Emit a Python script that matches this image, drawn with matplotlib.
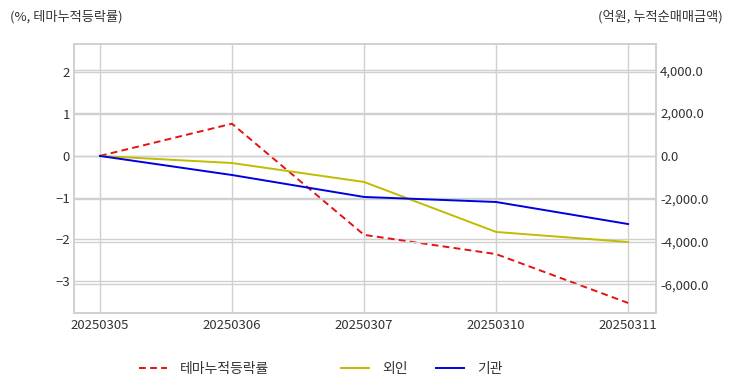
import matplotlib.pyplot as plt
from matplotlib.ticker import FuncFormatter

plt.rcParams['font.family'] = ['Noto Sans CJK KR', 'DejaVu Sans']

dates = ["20250305", "20250306", "20250307", "20250310", "20250311"]
theme_rate = [0.0, 0.77, -1.89, -2.35, -3.52]      # %, left axis
foreign = [0.0, -330, -1215, -3550, -4020]         # 억원, right axis
institution = [0.0, -890, -1915, -2150, -3180]     # 억원, right axis

left_ticks = [-3, -2, -1, 0, 1, 2]
right_ticks = [-6000, -4000, -2000, 0, 2000, 4000]

grid_c = "#d0d0d0"
text_c = "#333333"

fig = plt.figure(figsize=(7.32, 3.92), dpi=100)
ax = fig.add_axes([0.101, 0.2015, 0.795, 0.6865])
ax2 = ax.twinx()

x = range(len(dates))
l1, = ax.plot(x, theme_rate, color="#e81010", lw=1.4, ls=(0, (3.5, 2.2)), label="테마누적등락률")
l2, = ax2.plot(x, foreign, color="#c0bc00", lw=1.4, label="외인")
l3, = ax2.plot(x, institution, color="#0000e0", lw=1.4, label="기관")

ax.set_xlim(-0.197, 4.21)
ax.set_ylim(-3.76, 2.68)
ax2.set_ylim(-7336, 5234)

ax.set_xticks(list(x))
ax.set_xticklabels(dates)
ax.set_yticks(left_ticks)
ax2.set_yticks(right_ticks)
ax2.yaxis.set_major_formatter(FuncFormatter(lambda v, p: f"{v:,.1f}"))

ax.grid(True, color=grid_c, lw=1)
ax2.grid(True, axis="y", color=grid_c, lw=1)
ax.set_axisbelow(True)

for a in (ax, ax2):
    a.tick_params(length=0, labelsize=9.5, labelcolor=text_c, pad=3)
    for s in a.spines.values():
        s.set_color(grid_c)
        s.set_linewidth(1.2)
ax.tick_params(axis="x", pad=4)

fig.text(0.013, 0.958, "(%, 테마누적등락률)", fontsize=9.5, color=text_c, ha="left", va="center")
fig.text(0.987, 0.958, "(억원, 누적순매매금액)", fontsize=9.5, color=text_c, ha="right", va="center")

# legend entries placed individually (unequal spacing in the reference)
for h, xpos in zip([l1, l2, l3], [139, 341, 436]):
    fig.legend(handles=[h], loc="center left", bbox_to_anchor=(xpos / 732, 0.0587),
               frameon=False, fontsize=10, handlelength=2.0, handletextpad=0.95,
               borderpad=0, borderaxespad=0, labelcolor=text_c)

fig.savefig("out.png", dpi=100)
